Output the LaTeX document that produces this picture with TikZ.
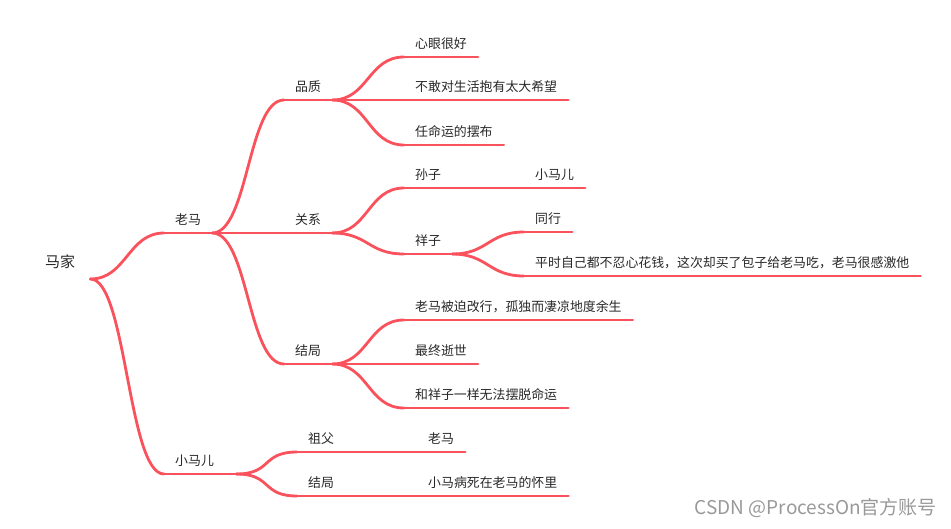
\documentclass[tikz,border=0pt]{standalone}
\usepackage{fontspec}
\newfontfamily\cjk{Noto Sans CJK SC}
\definecolor{mmred}{RGB}{250,82,92}
\definecolor{mmtext}{RGB}{40,40,40}
\begin{document}
\begin{tikzpicture}[x=1pt,y=-1pt,
 t/.style={anchor=south west,inner xsep=11pt,inner ysep=8pt,text depth=0pt,font=\cjk\fontsize{12.9}{15}\selectfont,text=mmtext},
 r/.style={t,inner xsep=15pt,inner ysep=11pt,font=\cjk\fontsize{15}{18}\selectfont},
 l/.style={draw=mmred,line width=2.8pt,line cap=round},
 c/.style={to path={.. controls +(36,0) and +(-36,0) .. (\tikztotarget)}}]
\useasboundingbox (0,0) rectangle (951,528);
\node[r] (root) at (30,279) {马家};
\node[t] (laoma) at (164,233) {老马};
\node[t,text width=50pt] (xiaoma) at (164,474) {小马儿};
\node[t] (pinzhi) at (284,100) {品质};
\node[t] (guanxi) at (284,233) {关系};
\node[t] (jieju) at (284,364) {结局};
\node[t] (xinyan) at (404,57) {心眼很好};
\node[t] (bugan) at (404,100) {不敢对生活抱有太大希望};
\node[t] (renming) at (404,145) {任命运的摆布};
\node[t] (sunzi) at (404,188) {孙子};
\node[t] (xiaoma2) at (524,188) {小马儿};
\node[t] (xiangzi) at (404,254) {祥子};
\node[t] (tonghang) at (524,232) {同行};
\node[t] (pingshi) at (524,276) {平时自己都不忍心花钱，这次却买了包子给老马吃，老马很感激他};
\node[t] (gaihang) at (404,320) {老马被迫改行，孤独而凄凉地度余生};
\node[t] (shishi) at (404,364) {最终逝世};
\node[t] (mingyun) at (404,408) {和祥子一样无法摆脱命运};
\node[t] (zufu) at (297,452) {祖父};
\node[t] (laoma2) at (417,452) {老马};
\node[t] (jieju2) at (297,496) {结局};
\node[t] (bingsi) at (417,496) {小马病死在老马的怀里};
\node[anchor=east,inner sep=0pt,font=\cjk\fontsize{19}{22}\selectfont,text=black!40] (mark) at (937,508) {CSDN @ProcessOn官方账号};
% underlines
\foreach \n in {laoma,xiaoma,pinzhi,guanxi,jieju,xinyan,bugan,renming,sunzi,xiaoma2,xiangzi,tonghang,pingshi,gaihang,shishi,mingyun,zufu,laoma2,jieju2,bingsi}
 \draw[l] (\n.south west)--(\n.south east);
% branches
\draw[l] (root.south east) to[c] (laoma.south west); \draw[l] (root.south east) to[c] (xiaoma.south west);
\draw[l] (laoma.south east) to[c] (pinzhi.south west); \draw[l] (laoma.south east) to[c] (guanxi.south west); \draw[l] (laoma.south east) to[c] (jieju.south west);
\draw[l] (pinzhi.south east) to[c] (xinyan.south west); \draw[l] (pinzhi.south east) to[c] (bugan.south west); \draw[l] (pinzhi.south east) to[c] (renming.south west);
\draw[l] (guanxi.south east) to[c] (sunzi.south west); \draw[l] (guanxi.south east) to[c] (xiangzi.south west);
\draw[l] (sunzi.south east) to[c] (xiaoma2.south west);
\draw[l] (xiangzi.south east) to[c] (tonghang.south west); \draw[l] (xiangzi.south east) to[c] (pingshi.south west);
\draw[l] (jieju.south east) to[c] (gaihang.south west); \draw[l] (jieju.south east) to[c] (shishi.south west); \draw[l] (jieju.south east) to[c] (mingyun.south west);
\draw[l] (xiaoma.south east) to[c] (zufu.south west); \draw[l] (xiaoma.south east) to[c] (jieju2.south west);
\draw[l] (zufu.south east) to[c] (laoma2.south west); \draw[l] (jieju2.south east) to[c] (bingsi.south west);
\end{tikzpicture}
\end{document}
